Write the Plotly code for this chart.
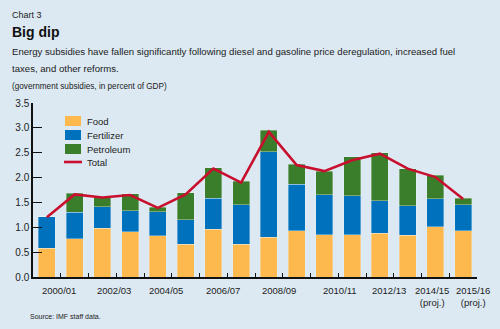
import plotly.graph_objects as go

years = ["2000/01", "2001/02", "2002/03", "2003/04", "2004/05", "2005/06", "2006/07", "2007/08",
         "2008/09", "2009/10", "2010/11", "2011/12", "2012/13", "2013/14", "2014/15", "2015/16"]
food = [0.58, 0.77, 0.98, 0.91, 0.83, 0.66, 0.96, 0.66, 0.80, 0.93, 0.85, 0.85, 0.88, 0.84, 1.01, 0.93]
fertilizer = [0.63, 0.53, 0.43, 0.42, 0.48, 0.49, 0.62, 0.79, 1.72, 0.94, 0.80, 0.78, 0.65, 0.59, 0.56, 0.52]
petroleum = [0.00, 0.38, 0.20, 0.34, 0.09, 0.54, 0.62, 0.48, 0.43, 0.40, 0.48, 0.79, 0.97, 0.75, 0.48, 0.13]
total = [1.20, 1.66, 1.60, 1.65, 1.39, 1.66, 2.18, 1.90, 2.92, 2.25, 2.13, 2.35, 2.48, 2.18, 2.01, 1.57]

label_text = ["2000/01", "2002/03", "2004/05", "2006/07", "2008/09", "2010/11", "2012/13",
              "2014/15<br>(proj.)", "2015/16<br>(proj.)"]
label_pos = [0.45, 2.42, 4.29, 6.34, 8.38, 10.55, 12.33, 13.88, 15.34]
yticks = [0, 0.5, 1.0, 1.5, 2.0, 2.5, 3.0, 3.5]

series_names = ["Food", "Fertilizer", "Petroleum", "Total"]
colors = ["#fdb94e", "#0071bc", "#3a7d2a", "#c8102e"]

x = list(range(len(years)))
BG = "rgb(220,233,242)"
FONT = "Liberation Sans, Arial, sans-serif"
TXT = "#222"
edge = dict(color="rgba(235,243,248,0.6)", width=0.6)

fig = go.Figure()
for name, vals, col in zip(series_names[:3], [food, fertilizer, petroleum], colors[:3]):
    fig.add_trace(go.Bar(x=x, y=vals, name=name, marker=dict(color=col, line=edge), width=0.61,
                         showlegend=False))
fig.add_trace(go.Scatter(x=x, y=total, name="Total", mode="lines",
                         line=dict(color=colors[3], width=2.6), showlegend=False))

fig.update_layout(
    barmode="stack",
    width=500, height=329,
    margin=dict(l=33, r=23, t=103, b=52),
    paper_bgcolor=BG, plot_bgcolor=BG,
    showlegend=False,
    xaxis=dict(range=[-0.5, 15.5], tickmode="array", tickvals=[i + 0.5 for i in range(16)],
               ticktext=[""] * 16, ticks="inside", ticklen=4, tickcolor="#111", tickwidth=1.2,
               showline=True, linecolor="#111", linewidth=1.5, showgrid=False, zeroline=False),
    yaxis=dict(range=[0, 3.5], tickmode="array", tickvals=yticks, ticktext=[f"{v:.1f}" for v in yticks],
               ticks="inside", ticklen=9, tickcolor="#111", tickwidth=1.2,
               showline=True, linecolor="#111", linewidth=1.5, showgrid=False, zeroline=False,
               tickfont=dict(size=10, color=TXT, family=FONT)),
)

H = 329 - 103 - 52
W = 500 - 33 - 23
def px(xp):
    return (xp - 33) / W
def py(yp):
    return (277 - yp) / H

# x-axis category labels
for t, p in zip(label_text, label_pos):
    fig.add_annotation(x=p, y=0, xref="x", yref="y", text=t, showarrow=False,
                       yanchor="top", yshift=-6, font=dict(size=9.5, color=TXT, family=FONT),
                       align="center")

# legend (compact, as in the reference)
leg_y = [121, 135, 149, 162]
for i, (name, col) in enumerate(zip(series_names, colors)):
    yc = leg_y[i]
    if i < 3:
        fig.add_shape(type="rect", xref="paper", yref="paper", x0=px(65), x1=px(81),
                      y0=py(yc + 5), y1=py(yc - 5), fillcolor=col, line=dict(width=0))
    else:
        fig.add_shape(type="line", xref="paper", yref="paper", x0=px(64), x1=px(82),
                      y0=py(yc), y1=py(yc), line=dict(color=col, width=2.6))
    fig.add_annotation(x=px(85), y=py(yc), xref="paper", yref="paper", xanchor="left",
                       yanchor="middle", text=name, showarrow=False,
                       font=dict(size=9.5, color=TXT, family=FONT))

texts = [
    ("Chart 3", 10, 15, dict(size=9, color=TXT, family=FONT)),
    ("<b>Big dip</b>", 10, 32, dict(size=14, color="#111", family=FONT)),
    ("Energy subsidies have fallen significantly following diesel and gasoline price deregulation, increased fuel",
     10, 52, dict(size=9.6, color=TXT, family=FONT)),
    ("taxes, and other reforms.", 10, 69, dict(size=9.6, color=TXT, family=FONT)),
    ("(government subsidies, in percent of GDP)", 10, 87, dict(size=8.2, color=TXT, family=FONT)),
    ("Source: IMF staff data.", 28, 316, dict(size=7, color=TXT, family=FONT)),
]
for t, xp, yp, f in texts:
    fig.add_annotation(x=px(xp), y=py(yp), xref="paper", yref="paper", xanchor="left", yanchor="middle",
                       text=t, showarrow=False, font=f)

fig.write_html("out.html")
